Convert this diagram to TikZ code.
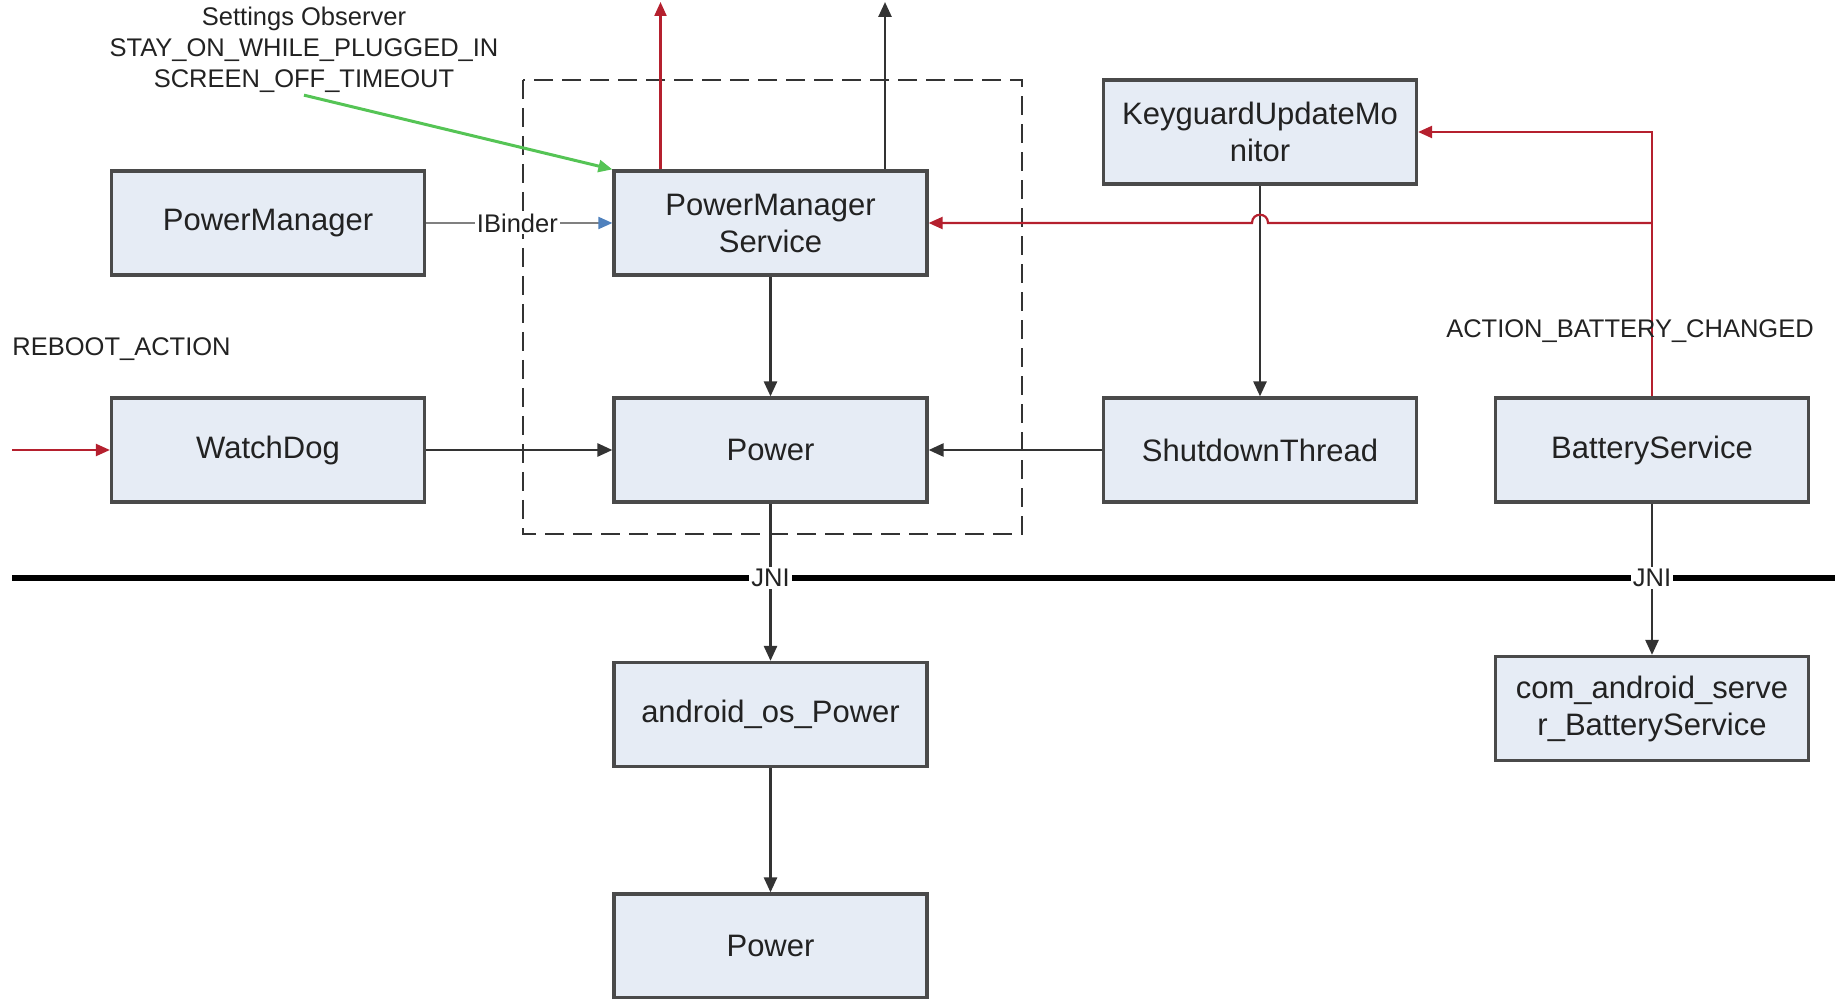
\documentclass[tikz,border=0pt]{standalone}
\usepackage{fontspec}
\setmainfont{Liberation Sans}
\usetikzlibrary{arrows.meta}
\definecolor{boxfill}{HTML}{E6ECF5}
\definecolor{boxline}{HTML}{4A4A4A}
\definecolor{conn}{HTML}{333333}
\definecolor{redc}{HTML}{B5202E}
\definecolor{greenc}{HTML}{55C455}
\definecolor{bluec}{HTML}{4F81BD}
\definecolor{txt}{HTML}{222222}
\begin{document}
\begin{tikzpicture}[x=0.5pt,y=-0.5pt,
  box/.style={draw=boxline, line width=1.6pt, fill=boxfill, minimum width=156.5pt, minimum height=52pt, inner sep=0pt, align=center, font=\fontsize{15.5}{18.5}\selectfont, text=txt},
  lbl/.style={font=\fontsize{12.75}{15.5}\selectfont, text=txt, inner sep=1pt},
  arr/.style={draw=conn, line width=1.3pt, -{Triangle[length=7.5pt,width=6.5pt]}},
  redarr/.style={draw=redc, line width=1.1pt, -{Triangle[length=7pt,width=6pt,color=redc]}},
  greenarr/.style={draw=greenc, line width=1.5pt, -{Triangle[length=7pt,width=6pt,color=greenc]}},
  bluearr/.style={draw=gray, line width=1pt, -{Triangle[length=7pt,width=6pt,color=bluec]}},
  dashbox/.style={draw=conn, line width=1.4pt, dash pattern=on 9.5pt off 4.5pt},
  jniline/.style={draw=black, line width=3pt}
]
\useasboundingbox (0,0) rectangle (1835,999);

% dashed group
\draw[dashbox] (523,80) rectangle (1022,534);

% JNI boundary
\coordinate (jl) at (12,578);
\coordinate (jr) at (1835,578);
\draw[jniline] (jl) -- (jr);

% boxes
\node[box] (pm)  at (268,223)   {PowerManager};
\node[box] (pms) at (770.5,223) {PowerManager\\Service};
\node[box] (kg)  at (1260,132)  {KeyguardUpdateMo\\nitor};
\node[box] (wd)  at (268,450)   {WatchDog};
\node[box] (pw)  at (770.5,450) {Power};
\node[box] (st)  at (1260,450)  {ShutdownThread};
\node[box] (bs)  at (1652,450)  {BatteryService};
\node[box] (aop) at (770.5,714.5) {android\_os\_Power};
\node[box] (pw2) at (770.5,946) {Power};
\node[box] (cas) at (1652,708.5) {com\_android\_serve\\r\_BatteryService};

% labels
\node[lbl, align=center] (so) at (304,50) {Settings Observer\\STAY\_ON\_WHILE\_PLUGGED\_IN\\SCREEN\_OFF\_TIMEOUT};
\node[lbl, anchor=west] (reb) at (10,349) {REBOOT\_ACTION};

% up arrows from PowerManagerService
\coordinate (top1) at (660.5,2);
\coordinate (top2) at (885,2);
\draw[redarr] (pms.north -| top1) -- (top1);
\draw[arr] (pms.north -| top2) -- (top2);

% green settings observer
\draw[greenarr] (so.south) -- (pms.north west);

% IBinder
\draw[bluearr] (pm.east) -- node[lbl, fill=white, pos=0.49] (ib) {IBinder} (pms.west);

% black connectors
\draw[arr] (pms.south) -- (pw.north);
\draw[arr] (wd.east) -- (pw.west);
\draw[arr] (st.west) -- (pw.east);
\draw[arr] (kg.south) -- (st.north);
\draw[arr] (pw.south) -- (aop.north);
\draw[arr] (aop.south) -- (pw2.north);
\draw[arr] (bs.south) -- (cas.north);

% red battery broadcast
\coordinate (bj1) at (bs.north |- kg.east);
\coordinate (bj2) at (bs.north |- pms.east);
\coordinate (hopR) at (1268,223);
\coordinate (hopL) at (1252,223);
\draw[redarr] (bs.north) -- (bj1) -- (kg.east);
\draw[redarr] (bj2) -- (hopR) .. controls (1268,212) and (1252,212) .. (hopL) -- (pms.east);
\node[lbl] (abc) at (1630,331) {ACTION\_BATTERY\_CHANGED};

% reboot
\coordinate (rb) at (12,450);
\draw[redarr] (rb) -- (wd.west);

% JNI labels
\node[lbl, fill=white] (jni1) at (770.5,578) {JNI};
\node[lbl, fill=white] (jni2) at (1652,578) {JNI};
\end{tikzpicture}
\end{document}
